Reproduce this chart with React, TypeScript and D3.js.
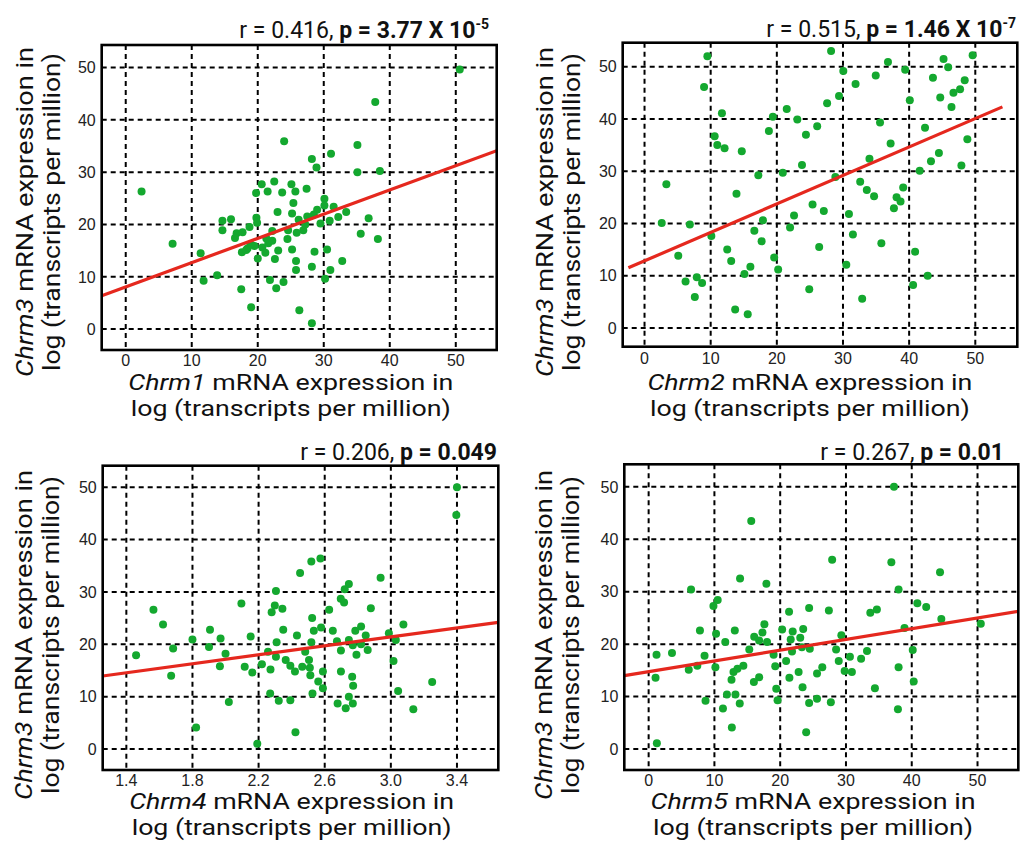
import React from "react";
import * as d3 from "d3";

// ---------- data ----------
const geneNames = ["Chrm1", "Chrm2", "Chrm4", "Chrm5"];
const yGene = "Chrm3";
const rValues = ["0.416", "0.515", "0.206", "0.267"];
const pMantissa = ["3.77 X 10", "1.46 X 10", "0.049", "0.01"];
const pExponent = ["-5", "-7", "", ""];

const xTicksTPM = [0, 10, 20, 30, 40, 50];
const xTicksChrm4 = [1.4, 1.8, 2.2, 2.6, 3.0, 3.4];
const yTicks = [0, 10, 20, 30, 40, 50];

// regression lines: [intercept, slope, xStart, xEnd]
const fitChrm1 = [8.07, 0.463, -3.64, 56.2];
const fitChrm2 = [12.83, 0.545, -2.44, 54.1];
const fitChrm4 = [8.57, 4.28, 1.257, 3.65];
const fitChrm5 = [14.76, 0.205, -3.7, 56.2];

const chrm1Points: [number, number][] = [
  [50.6, 49.6], [37.8, 43.4], [24.0, 35.9], [35.1, 35.2], [31.1, 33.5], [28.2, 32.5],
  [28.9, 30.9], [35.1, 30.0], [38.5, 30.2], [2.4, 26.3], [20.6, 27.7], [22.5, 28.2],
  [25.1, 27.7], [27.4, 26.8], [19.75, 26.0], [21.5, 26.3], [23.7, 26.1], [25.7, 26.3],
  [25.4, 24.1], [30.1, 24.9], [31.5, 23.4], [30.1, 23.6], [29.0, 22.8], [33.4, 22.4],
  [32.2, 21.4], [30.9, 20.7], [29.5, 20.2], [28.5, 21.9], [27.5, 21.5], [26.2, 20.9],
  [25.2, 22.1], [23.0, 22.4], [36.8, 21.2], [14.65, 20.7], [15.95, 21.0], [14.65, 18.9],
  [19.8, 21.3], [19.9, 20.3], [18.75, 19.5], [16.8, 18.3], [17.7, 18.5], [16.55, 17.4],
  [22.2, 18.75], [24.6, 18.9], [25.9, 18.4], [26.9, 18.9], [7.1, 16.3], [11.35, 14.5],
  [18.45, 15.4], [19.5, 15.9], [20.7, 15.6], [21.6, 16.4], [22.2, 16.9], [17.6, 14.7],
  [21.15, 14.6], [20.0, 13.5], [23.1, 15.0], [22.6, 13.4], [24.5, 17.2], [25.2, 15.2],
  [28.6, 14.8], [30.5, 15.2], [25.8, 13.0], [25.8, 11.3], [28.2, 11.9], [31.0, 11.3],
  [32.8, 13.0], [35.6, 18.2], [38.2, 17.2], [30.2, 9.6], [11.8, 9.25], [13.85, 10.3],
  [17.5, 7.6], [21.85, 9.4], [22.8, 7.8], [23.9, 9.0], [19.0, 4.15], [26.3, 3.6],
  [28.2, 1.1], [18.25, 15.1], [21.3, 17.3], [27.2, 20.0], [18.9, 16.2],
];

const chrm2Points: [number, number][] = [
  [9.5, 52.0], [28.2, 53.0], [30.05, 49.2], [36.8, 50.9], [39.4, 49.4], [45.2, 51.5],
  [45.9, 49.9], [49.6, 52.2], [9.0, 46.1], [34.95, 48.3], [31.9, 46.7], [43.6, 47.9],
  [48.4, 47.4], [47.7, 45.7], [46.7, 45.0], [44.7, 44.1], [46.4, 42.3], [40.1, 43.6],
  [29.4, 44.4], [27.6, 43.0], [21.5, 41.9], [23.1, 39.9], [19.4, 40.4], [18.8, 37.7],
  [26.1, 38.6], [24.4, 37.0], [11.7, 41.1], [10.6, 36.7], [11.0, 35.0], [12.1, 34.4],
  [14.7, 33.8], [35.6, 39.3], [42.4, 38.3], [37.2, 35.3], [48.8, 36.1], [34.0, 32.4],
  [44.5, 33.5], [43.3, 31.9], [41.6, 30.1], [47.9, 31.1], [23.8, 31.2], [20.9, 29.7],
  [17.2, 29.2], [3.3, 27.5], [13.9, 25.7], [32.6, 28.0], [33.6, 26.4], [34.7, 25.2],
  [39.1, 26.9], [38.1, 25.0], [38.7, 24.2], [37.7, 22.9], [28.85, 28.9], [25.4, 23.6],
  [27.1, 22.4], [22.6, 21.5], [30.9, 21.8], [17.9, 20.6], [22.0, 19.2], [16.6, 18.6],
  [17.7, 16.6], [31.5, 17.9], [35.8, 16.2], [26.4, 15.5], [2.6, 20.1], [6.85, 19.8],
  [10.1, 17.6], [5.1, 13.8], [12.5, 15.0], [13.1, 12.8], [19.6, 13.5], [20.2, 11.2],
  [16.0, 11.7], [15.1, 10.3], [30.5, 12.1], [40.9, 14.6], [42.8, 10.0], [40.6, 8.2],
  [6.2, 8.9], [7.9, 9.7], [8.7, 8.6], [7.6, 5.9], [24.9, 7.4], [32.9, 5.6],
  [13.7, 3.5], [15.6, 2.6],
];

const chrm4Points: [number, number][] = [
  [3.4, 50.0], [3.396, 44.7], [2.519, 35.8], [2.574, 36.4], [2.451, 33.6], [2.938, 32.7],
  [2.746, 31.5], [2.721, 30.5], [2.305, 30.2], [2.697, 28.7], [2.717, 28.0], [2.096, 27.8],
  [2.298, 27.4], [2.344, 26.8], [2.279, 26.1], [1.564, 26.6], [1.622, 23.8], [2.627, 26.6],
  [2.879, 26.9], [2.524, 25.0], [3.076, 23.8], [1.906, 22.8], [2.349, 22.8], [2.534, 22.6],
  [2.578, 23.2], [2.649, 22.6], [2.82, 23.4], [2.785, 22.6], [2.848, 21.7], [2.988, 22.1],
  [3.03, 20.8], [2.152, 21.5], [2.432, 21.7], [1.8, 20.9], [1.97, 21.1], [2.309, 20.4],
  [2.519, 20.4], [2.674, 20.6], [2.746, 20.8], [2.77, 19.8], [2.82, 20.0], [2.86, 18.9],
  [2.792, 18.0], [2.698, 18.8], [2.482, 18.6], [2.305, 17.6], [2.257, 18.6], [1.683, 19.2],
  [1.9, 19.5], [2.0, 18.2], [1.459, 17.9], [1.966, 15.8], [2.116, 15.7], [2.162, 14.6],
  [2.22, 16.2], [2.272, 15.2], [2.364, 17.0], [2.392, 15.9], [2.42, 14.8], [2.464, 15.7],
  [2.505, 17.0], [2.51, 15.5], [2.513, 14.1], [2.561, 12.9], [2.589, 14.8], [2.589, 11.6],
  [2.698, 14.8], [2.766, 13.8], [2.772, 12.1], [2.746, 10.0], [2.77, 8.7], [2.727, 7.8],
  [2.678, 8.7], [2.526, 10.6], [3.016, 16.8], [3.044, 11.1], [3.25, 12.8], [3.136, 7.6],
  [2.27, 10.6], [2.322, 9.2], [2.392, 9.3], [2.02, 9.0], [1.671, 14.0], [1.822, 4.1],
  [2.423, 3.2], [2.192, 1.0],
];

const chrm5Points: [number, number][] = [
  [37.3, 50.0], [15.6, 43.5], [27.9, 36.1], [36.9, 35.6], [44.3, 33.7], [13.9, 32.5],
  [17.9, 31.5], [6.45, 30.4], [38.0, 30.4], [10.5, 28.4], [9.85, 27.3], [21.35, 26.2],
  [24.4, 26.9], [27.4, 26.4], [33.7, 26.0], [34.7, 26.6], [40.85, 27.8], [42.2, 27.1],
  [44.5, 24.8], [50.5, 23.9], [38.9, 23.1], [7.8, 22.6], [13.1, 22.6], [10.25, 22.0],
  [11.65, 20.4], [17.6, 23.8], [17.3, 22.2], [16.05, 21.4], [16.8, 20.7], [18.0, 20.4],
  [20.3, 22.8], [21.9, 22.4], [23.5, 22.9], [23.05, 21.2], [21.6, 20.9], [23.3, 19.4],
  [21.8, 18.6], [24.5, 19.1], [29.3, 21.7], [28.5, 19.0], [33.2, 18.7], [40.15, 18.9],
  [30.6, 17.6], [32.3, 17.2], [28.9, 16.8], [29.8, 14.9], [30.9, 14.7], [38.0, 15.6],
  [15.3, 19.0], [19.0, 18.0], [20.9, 16.8], [19.25, 15.8], [21.4, 13.6], [22.8, 14.7],
  [25.6, 14.4], [26.4, 15.6], [23.4, 11.8], [19.4, 11.5], [19.6, 9.3], [24.4, 8.8],
  [25.6, 9.6], [27.7, 8.9], [34.4, 11.6], [40.3, 12.9], [37.9, 7.6], [8.5, 17.8],
  [7.4, 15.9], [6.1, 15.1], [10.15, 15.6], [14.4, 15.9], [13.5, 15.3], [12.9, 14.7],
  [12.6, 13.2], [16.8, 13.7], [16.0, 12.8], [11.9, 10.4], [13.2, 10.4], [13.85, 8.7],
  [8.65, 9.2], [11.3, 7.75], [12.65, 4.1], [23.95, 3.2], [1.2, 18.0], [3.55, 18.3],
  [1.05, 13.6], [1.25, 1.1],
];

// ---------- layout ----------
type Panel = {
  points: [number, number][];
  fit: number[];
  xTicks: number[];
  xFmt: (v: number) => string;
  xDomain: [number, number];
  yDomain: [number, number];
  left: number; right: number; top: number; bottom: number;
  titleX: number; titleY: number;
  xLabelY: number; tickY: number;
  yLabelX: number; yLabelCy: number;
  gene: string; r: string; pm: string; pe: string;
};

const panels: Panel[] = [
  {
    points: chrm1Points, fit: fitChrm1, xTicks: xTicksTPM, xFmt: (v) => String(v),
    xDomain: [-3.64, 56.2], yDomain: [-4.0, 54.3],
    left: 101.7, right: 496.7, top: 45, bottom: 350,
    titleX: 489, titleY: 37.5, xLabelY: 390, tickY: 366, yLabelX: 33, yLabelCy: 212,
    gene: geneNames[0], r: rValues[0], pm: pMantissa[0], pe: pExponent[0],
  },
  {
    points: chrm2Points, fit: fitChrm2, xTicks: xTicksTPM, xFmt: (v) => String(v),
    xDomain: [-3.3, 56.35], yDomain: [-3.6, 54.6],
    left: 622.7, right: 1017.3, top: 42.7, bottom: 346.7,
    titleX: 1016, titleY: 37, xLabelY: 390, tickY: 364, yLabelX: 553, yLabelCy: 212,
    gene: geneNames[1], r: rValues[1], pm: pMantissa[1], pe: pExponent[1],
  },
  {
    points: chrm4Points, fit: fitChrm4, xTicks: xTicksChrm4, xFmt: (v) => v.toFixed(1),
    xDomain: [1.257, 3.65], yDomain: [-4.0, 54.1],
    left: 102.7, right: 498.3, top: 465.7, bottom: 770,
    titleX: 497, titleY: 460, xLabelY: 809, tickY: 786, yLabelX: 32, yLabelCy: 635,
    gene: geneNames[2], r: rValues[2], pm: pMantissa[2], pe: pExponent[2],
  },
  {
    points: chrm5Points, fit: fitChrm5, xTicks: xTicksTPM, xFmt: (v) => String(v),
    xDomain: [-3.7, 56.2], yDomain: [-4.0, 54.3],
    left: 624.3, right: 1018.3, top: 464.3, bottom: 770,
    titleX: 1004, titleY: 460, xLabelY: 809, tickY: 786, yLabelX: 552, yLabelCy: 635,
    gene: geneNames[3], r: rValues[3], pm: pMantissa[3], pe: pExponent[3],
  },
];

const GREEN = "#14a82f";
const RED = "#e5281e";
const LABEL_FONT = "Roboto, 'Noto Sans', sans-serif";
const TICK_FONT = "'Liberation Sans', Arial, sans-serif";

function ScatterPanel({ p }: { p: Panel }) {
  const x = d3.scaleLinear().domain(p.xDomain).range([p.left, p.right]);
  const y = d3.scaleLinear().domain(p.yDomain).range([p.bottom, p.top]);
  const [b0, b1, xs, xe] = p.fit;
  const line = d3.line<number>().x((v) => x(v)).y((v) => y(b0 + b1 * v));
  const midX = (x(p.xTicks[0]) + x(p.xTicks[p.xTicks.length - 1])) / 2;
  const clipId = `clip-${p.gene}`;
  return (
    <g>
      <defs>
        <clipPath id={clipId}>
          <rect x={p.left} y={p.top} width={p.right - p.left} height={p.bottom - p.top} />
        </clipPath>
      </defs>
      {/* grid */}
      <g stroke="#000" strokeWidth={2} strokeDasharray="5,4" fill="none">
        {p.xTicks.map((t) => (
          <line key={"gx" + t} x1={x(t)} x2={x(t)} y1={p.top} y2={p.bottom} />
        ))}
        {yTicks.map((t) => (
          <line key={"gy" + t} x1={p.left} x2={p.right} y1={y(t)} y2={y(t)} />
        ))}
      </g>
      {/* points */}
      <g clipPath={`url(#${clipId})`}>
        {p.points.map((d, i) => (
          <circle key={i} cx={x(d[0])} cy={y(d[1])} r={4} fill={GREEN} />
        ))}
        <path d={line([xs, xe]) || ""} stroke={RED} strokeWidth={3.2} fill="none" />
      </g>
      {/* frame */}
      <rect x={p.left} y={p.top} width={p.right - p.left} height={p.bottom - p.top}
        fill="none" stroke="#000" strokeWidth={2.6} />
      {/* tick labels */}
      <g fontFamily={TICK_FONT} fontSize={16} fill="#222">
        {p.xTicks.map((t) => (
          <text key={"tx" + t} x={x(t)} y={p.tickY} textAnchor="middle">{p.xFmt(t)}</text>
        ))}
        {yTicks.map((t) => (
          <text key={"ty" + t} x={p.left - 6} y={y(t)} dy="0.36em" textAnchor="end">{t}</text>
        ))}
      </g>
      {/* title */}
      <text x={p.titleX} y={p.titleY} textAnchor="end" fontFamily={LABEL_FONT} fontSize={23} fill="#111">
        <tspan>{`r = ${p.r}, `}</tspan>
        <tspan fontWeight="bold">{`p = ${p.pm}`}</tspan>
        {p.pe ? <tspan fontWeight="bold" fontSize={14} dy={-9}>{p.pe}</tspan> : null}
      </text>
      {/* x label */}
      <g fontFamily={LABEL_FONT} fontSize={21.5} fill="#111" textAnchor="middle">
        <text x={midX} y={p.xLabelY} textLength={325} lengthAdjust="spacingAndGlyphs">
          <tspan fontStyle="italic">{p.gene}</tspan>
          <tspan>{" mRNA expression in"}</tspan>
        </text>
        <text x={midX} y={p.xLabelY + 26} textLength={320} lengthAdjust="spacingAndGlyphs">
          log (transcripts per million)
        </text>
      </g>
      {/* y label */}
      <g fontFamily={LABEL_FONT} fontSize={23} fill="#111" textAnchor="middle">
        <text transform={`translate(${p.yLabelX},${p.yLabelCy}) rotate(-90)`}
          textLength={330} lengthAdjust="spacingAndGlyphs">
          <tspan fontStyle="italic">{yGene}</tspan>
          <tspan>{" mRNA expression in"}</tspan>
        </text>
        <text transform={`translate(${p.yLabelX + 27},${p.yLabelCy}) rotate(-90)`}
          textLength={318} lengthAdjust="spacingAndGlyphs">
          log (transcripts per million)
        </text>
      </g>
    </g>
  );
}

export default function App() {
  return (
    <svg width={1020} height={845} style={{ position: "absolute", left: 0, top: 0, background: "#fff" }}>
      <rect x={0} y={0} width={1020} height={845} fill="#fff" />
      {panels.map((p) => (
        <ScatterPanel key={p.gene} p={p} />
      ))}
    </svg>
  );
}
